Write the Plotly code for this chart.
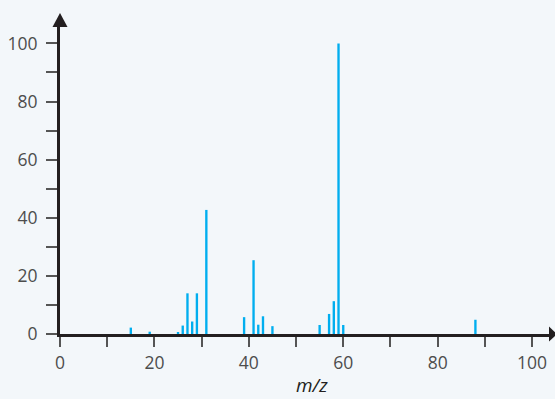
import plotly.graph_objects as go

mz = [15, 19, 25, 26, 27, 28, 29, 31, 39, 41, 42, 43, 45, 55, 57, 58, 59, 60, 88]
intensity = [2.2, 0.8, 0.6, 2.9, 14.0, 4.3, 14.0, 42.7, 5.8, 25.4, 3.2, 6.1, 2.7, 3.1, 6.9, 11.3, 100, 3.1, 4.9]

x_ticks = list(range(0, 101, 10))
x_labels = [str(v) if v % 20 == 0 else "" for v in x_ticks]
y_ticks = list(range(0, 101, 10))
y_labels = [str(v) if v % 20 == 0 else "" for v in y_ticks]

bg = "#F3F7FA"
axis_col = "#231F20"
font_fam = "Open Sans, Noto Sans, sans-serif"

fig = go.Figure()
fig.add_trace(go.Bar(x=mz, y=intensity, width=0.5, marker=dict(color="#00AEEF", line=dict(width=0)),
                     hoverinfo="x+y"))

fig.update_layout(
    width=555, height=399,
    margin=dict(l=60, r=5, t=26, b=65),
    paper_bgcolor=bg, plot_bgcolor=bg,
    showlegend=False,
    font=dict(family=font_fam, size=17.5, color="#4D4D4D"),
    xaxis=dict(range=[0, 103.8], tickvals=x_ticks, ticktext=x_labels, ticks="outside",
               ticklen=10, tickwidth=1.5, tickcolor="#555555", showgrid=False, zeroline=False,
               showline=True, linecolor=axis_col, linewidth=3, ticklabelstandoff=1),
    yaxis=dict(range=[0, 106], tickvals=y_ticks, ticktext=y_labels, ticks="outside",
               ticklen=11, tickwidth=1.5, tickcolor="#555555", showgrid=False, zeroline=False,
               showline=True, linecolor=axis_col, linewidth=3, ticklabelstandoff=5),
    annotations=[dict(text="<i>m/z</i>", xref="paper", yref="paper", x=0.514, y=0,
                      yshift=-51, showarrow=False, font=dict(size=19, color="#231F20"),
                      yanchor="middle")],
    shapes=[
        dict(type="path", xref="paper", yref="paper", xsizemode="pixel", ysizemode="pixel",
             xanchor=1, yanchor=0, path="M -1 -7.5 L 7 0 L -1 7.5 Z",
             fillcolor=axis_col, line=dict(width=0)),
        dict(type="path", xref="paper", yref="paper", xsizemode="pixel", ysizemode="pixel",
             xanchor=0, yanchor=1, path="M -7.5 -1 L 7.5 -1 L 0 13 Z",
             fillcolor=axis_col, line=dict(width=0)),
    ],
)

fig.write_html("out.html", config={"displayModeBar": False},
               post_script="document.body.style.margin='0';document.body.style.overflow='hidden';")
